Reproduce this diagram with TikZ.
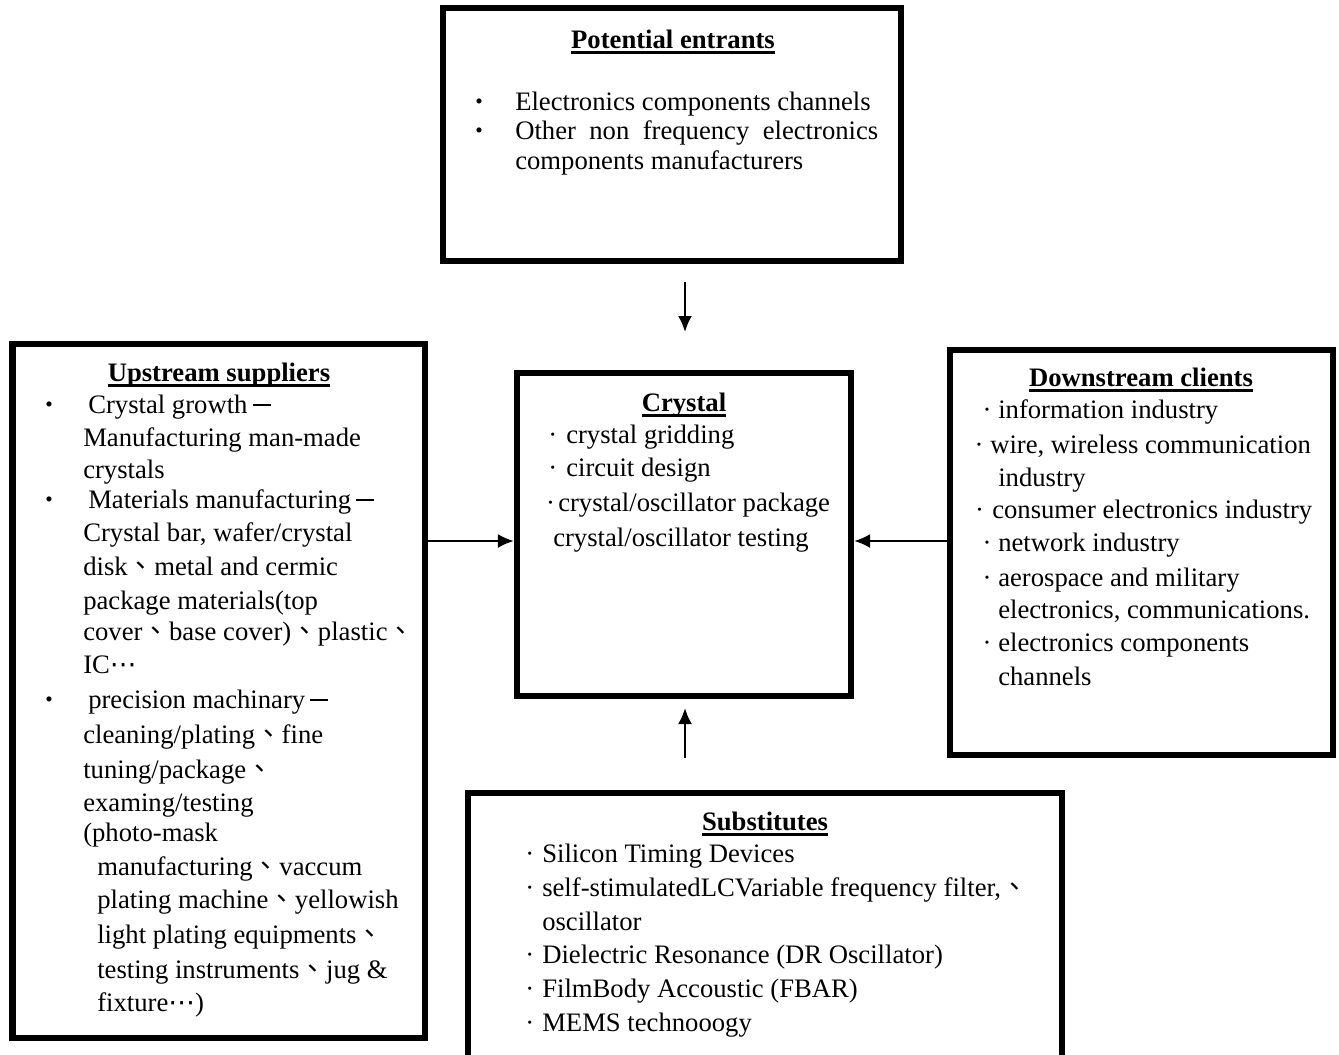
\documentclass[tikz,border=0pt]{standalone}
\usepackage{fontspec}
\setmainfont{Liberation Serif}
\newfontfamily\cjk{Noto Sans CJK TC}
\newfontfamily\djv{DejaVu Sans}
\usetikzlibrary{arrows.meta}
\newlength\px \setlength\px{0.75pt}
\newcommand\ps{{\cjk 、}}
\newcommand\fd{\hspace*{5\px}\rule[8\px]{18\px}{1.3\px}\hspace*{4\px}}
\newcommand\dd{{\djv ⋯}}
\newcommand\md[1]{\llap{·\hspace{#1\px}}}
\newsavebox\ulbox
\newcommand\ul[1]{\sbox\ulbox{#1}\rlap{\rule[-5\px]{\wd\ulbox}{2.4\px}}\usebox\ulbox}
\tikzset{
  box/.style={draw, line width=4.6pt, rectangle, inner sep=0pt},
  txt/.style={anchor=mid west, inner sep=0pt, font=\fontsize{20}{24}\selectfont},
  ttl/.style={anchor=mid, inner sep=0pt, font=\fontsize{20}{24}\selectfont\bfseries},
  blt/.style={anchor=center, inner sep=0pt, font=\fontsize{16}{18}\selectfont},
  arr/.style={line width=1.7pt, -{Latex[length=12pt,width=10.5pt]}}
}
\begin{document}
\begin{tikzpicture}[x=0.75pt, y=-0.75pt]
\useasboundingbox (0,0) rectangle (1339,1054);
% boxes
\node[box, minimum width=458\px, minimum height=253\px] (PE) at (672,134.5) {};
\node[box, minimum width=412.5\px, minimum height=694\px] (US) at (218.75,691) {};
\node[box, minimum width=334\px, minimum height=323\px] (CR) at (684,534.5) {};
\node[box, minimum width=383\px, minimum height=405\px] (DS) at (1141.5,552.5) {};
\node[box, minimum width=594\px, minimum height=271\px] (SB) at (765,928.5) {};
% arrows
\coordinate (ly) at (0,541);
\coordinate (ta) at (685,282);
\coordinate (tb) at (685,332);
\coordinate (ba) at (685,758);
\coordinate (bb) at (685,708);
\draw[arr] (ta) -- (tb);
\draw[arr] (ba) -- (bb);
\draw[arr] (US.east |- ly) -- (CR.west |- ly);
\draw[arr] (DS.west |- ly) -- (CR.east |- ly);
\begin{scope}[shift={(0,5.5)}]
% Potential entrants
\node[ttl] (pt) at (673,40) {\ul{Potential entrants}};
\node[blt] (pb1) at (479,98) {•};
\node[txt] (p1) at (515,102) {Electronics components channels};
\node[blt] (pb2) at (479,127) {•};
\node[txt] (p2) at (515,131) {\makebox[363\px][s]{Other non frequency electronics}};
\node[txt] (p3) at (515,161) {components manufacturers};
% Upstream suppliers
\node[ttl] (ut) at (219,373) {\ul{Upstream suppliers}};
\node[blt] (ub1) at (49,401) {•};
\node[blt] (ub2) at (49,496) {•};
\node[blt] (ub3) at (49,696) {•};
\node[txt] (u1) at (88,405) {Crystal growth\fd};
\node[txt] (u2) at (83,438) {Manufacturing man-made};
\node[txt] (u3) at (83,470) {crystals};
\node[txt] (u4) at (88,500) {Materials manufacturing\fd};
\node[txt] (u5) at (83,533) {Crystal bar, wafer/crystal};
\node[txt] (u6) at (83,567) {disk\ps metal and cermic};
\node[txt] (u7) at (83,601) {package materials(top};
\node[txt] (u8) at (83,632) {cover\ps base cover)\ps plastic\ps};
\node[txt] (u9) at (83,665) {IC\dd};
\node[txt] (u10) at (88,700) {precision machinary\fd};
\node[txt] (u11) at (83,735) {cleaning/plating\ps fine};
\node[txt] (u12) at (83,770) {tuning/package\ps};
\node[txt] (u13) at (83,803) {examing/testing};
\node[txt] (u14) at (83,833) {(photo-mask};
\node[txt] (u15) at (97,867) {manufacturing\ps vaccum};
\node[txt] (u16) at (97,900) {plating machine\ps yellowish};
\node[txt] (u17) at (97,935) {light plating equipments\ps};
\node[txt] (u18) at (97,970) {testing instruments\ps jug \&};
\node[txt] (u19) at (97,1003) {fixture\dd)};
% Crystal
\node[ttl] (ct) at (684,403) {\ul{Crystal}};
\node[txt] (c1) at (566,435) {\md{9}crystal gridding};
\node[txt] (c2) at (566,468) {\md{9}circuit design};
\node[txt] (c3) at (558,503) {\md{3.3}crystal/oscillator package};
\node[txt] (c4) at (553,538) {crystal/oscillator testing};
% Downstream clients
\node[ttl] (dt) at (1141,378) {\ul{Downstream clients}};
\node[txt] (d1) at (998,410) {\md{6.7}information industry};
\node[txt] (d2) at (990,445) {\md{6.7}wire, wireless communication};
\node[txt] (d3) at (998,478) {industry};
\node[txt] (d4) at (992,510) {\md{8.3}consumer electronics industry};
\node[txt] (d5) at (998,543) {\md{6.7}network industry};
\node[txt] (d6) at (998,578) {\md{6.7}aerospace and military};
\node[txt] (d7) at (998,610) {electronics, communications.};
\node[txt] (d8) at (998,643) {\md{6.7}electronics components};
\node[txt] (d9) at (998,677) {channels};
% Substitutes
\node[ttl] (st) at (765,822) {\ul{Substitutes}};
\node[txt] (s1) at (542,854) {\md{8}Silicon Timing Devices};
\node[txt] (s2) at (542,888) {\md{8}self-stimulatedLCVariable frequency filter,\ps};
\node[txt] (s3) at (542,922) {oscillator};
\node[txt] (s4) at (542,955) {\md{8}Dielectric Resonance (DR Oscillator)};
\node[txt] (s5) at (542,989) {\md{8}FilmBody Accoustic (FBAR)};
\node[txt] (s6) at (542,1023) {\md{8}MEMS technooogy};
\end{scope}
\end{tikzpicture}
\end{document}
